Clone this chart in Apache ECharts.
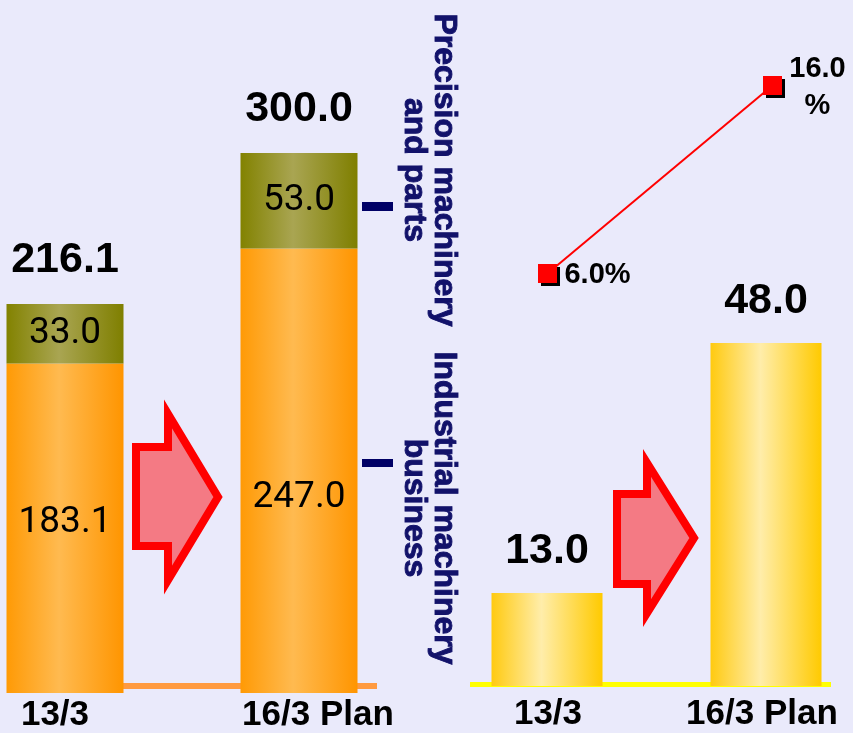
<!DOCTYPE html>
<html>
<head>
<meta charset="utf-8">
<script src="https://cdn.jsdelivr.net/npm/echarts@6/dist/echarts.min.js"></script>
<style>
  html, body { margin: 0; padding: 0; background: #EAEAFB; }
  #chart { width: 853px; height: 733px; }
</style>
</head>
<body>
<div id="chart"></div>
<script>
// Fiscal periods shown on both panels
const categories = ['13/3', '16/3 Plan'];
// Net sales by segment (left panel)
const industrialSales = [183.1, 247.0];
const precisionSales = [33.0, 53.0];
// Operating income (right panel, bars) and operating margin in % (right panel, line)
const operatingIncome = [13.0, 48.0];
const operatingMargin = [6.0, 16.0];
// Segment captions
const segmentNames = ['Industrial machinery\nbusiness', 'Precision machinery\nand parts'];

const totals = industrialSales.map((v, i) => Math.round((v + precisionSales[i]) * 10) / 10);

function hGradient(edge, mid, edge2) {
  return {
    type: 'linear', x: 0, y: 0, x2: 1, y2: 0,
    colorStops: [
      { offset: 0, color: edge },
      { offset: 0.45, color: mid },
      { offset: 1, color: edge2 }
    ]
  };
}

const orangeFill = hGradient('#FF9A05', '#FFBA50', '#FF9500');
const oliveFill = hGradient('#828200', '#A9A552', '#7F7F00');
const yellowFill = hGradient('#FFCA10', '#FFEDAA', '#FFCA00');

// vertical nudges for the in-bar labels of the lower segment
const industrialLabelShift = [-5, 27];

const innerLabel = {
  show: true,
  position: 'inside',
  fontFamily: 'Roboto',
  fontSize: 37,
  color: '#000',
  formatter: p => p.value.toFixed(1)
};

const bigLabel = {
  show: true,
  position: 'top',
  distance: 22,
  fontFamily: 'Liberation Sans',
  fontWeight: 'bold',
  fontSize: 43,
  color: '#000',
  formatter: p => Number(p.value).toFixed(1)
};

const axisFont = { fontFamily: 'Liberation Sans', fontWeight: 'bold', fontSize: 35, color: '#000' };

const chart = echarts.init(document.getElementById('chart'), null, { renderer: 'canvas' });

const captionStyle = {
  align: 'center', verticalAlign: 'middle',
  fontFamily: 'Liberation Sans', fontWeight: 'bold', fontSize: 32,
  lineHeight: 30, fill: '#12126A', stroke: '#12126A', lineWidth: 0.9
};

const option = {
  backgroundColor: '#EAEAFB',
  animation: false,
  grid: [
    { left: -52, width: 468, top: 153, height: 540, outerBoundsMode: 'none' },
    { left: 437.5, width: 438, top: 343, height: 343, outerBoundsMode: 'none' },
    { left: 435, width: 450, top: 85.5, height: 188, outerBoundsMode: 'none' }
  ],
  xAxis: [
    {
      gridIndex: 0, type: 'category', data: categories,
      axisLine: { show: false }, axisTick: { show: false },
      axisLabel: {
        interval: 0, margin: 5, ...axisFont,
        formatter: (v, i) => '{c' + i + '|' + v + '}',
        rich: {
          c0: { ...axisFont, padding: [0, 20, 0, 0] },
          c1: { ...axisFont, padding: [0, 0, 0, 38] }
        }
      }
    },
    {
      gridIndex: 1, type: 'category', data: categories,
      axisLine: { show: false }, axisTick: { show: false },
      axisLabel: {
        interval: 0, margin: 11, ...axisFont,
        formatter: (v, i) => '{c' + i + '|' + v + '}',
        rich: {
          c0: { ...axisFont, padding: [0, 0, 0, 2] },
          c1: { ...axisFont, padding: [0, 8, 0, 0] }
        }
      }
    },
    { gridIndex: 2, type: 'category', data: categories, show: false }
  ],
  yAxis: [
    { gridIndex: 0, type: 'value', min: 0, max: 300, show: false, splitLine: { show: false } },
    { gridIndex: 1, type: 'value', min: 0, max: 48, show: false, splitLine: { show: false } },
    { gridIndex: 2, type: 'value', min: 6, max: 16, show: false, splitLine: { show: false } }
  ],
  series: [
    {
      name: segmentNames[0].replace('\n', ' '),
      type: 'bar', xAxisIndex: 0, yAxisIndex: 0, stack: 'sales',
      barWidth: 117, barGap: '-100%',
      itemStyle: { color: orangeFill },
      label: innerLabel,
      data: industrialSales.map((v, i) => ({ value: v, label: { offset: [0, industrialLabelShift[i]] } }))
    },
    {
      name: segmentNames[1].replace('\n', ' '),
      type: 'bar', xAxisIndex: 0, yAxisIndex: 0, stack: 'sales',
      barWidth: 117, barGap: '-100%',
      itemStyle: { color: oliveFill },
      label: innerLabel,
      data: precisionSales
    },
    {
      name: 'Net sales',
      type: 'bar', xAxisIndex: 0, yAxisIndex: 0,
      barWidth: 117, barGap: '-100%', z: 1,
      itemStyle: { color: 'rgba(0,0,0,0)' },
      label: bigLabel,
      data: totals
    },
    {
      name: 'Operating income',
      type: 'bar', xAxisIndex: 1, yAxisIndex: 1,
      barWidth: 111,
      itemStyle: { color: yellowFill },
      label: { ...bigLabel, distance: 20 },
      data: operatingIncome
    },
    {
      name: 'Operating margin',
      type: 'line', xAxisIndex: 2, yAxisIndex: 2,
      symbol: 'rect', symbolSize: 19,
      lineStyle: { color: '#FF0000', width: 2 },
      itemStyle: { color: '#FF0000', shadowColor: '#000', shadowBlur: 0, shadowOffsetX: 3, shadowOffsetY: 3 },
      label: {
        show: true, position: 'inside',
        fontFamily: 'Liberation Sans', fontWeight: 'bold', fontSize: 29, color: '#000',
        lineHeight: 37, align: 'center',
        formatter: p => p.dataIndex === 0 ? p.value.toFixed(1) + '%' : p.value.toFixed(1) + '\n%'
      },
      data: operatingMargin.map((v, i) => ({ value: v, label: { offset: i === 0 ? [50, 1] : [45, 2] } }))
    }
  ],
  graphic: [
    // baselines under the bars
    { type: 'line', shape: { x1: 7, y1: 686, x2: 377, y2: 686 }, style: { stroke: '#FF9A40', lineWidth: 6 }, z: 0 },
    { type: 'line', shape: { x1: 470, y1: 684.5, x2: 831, y2: 684.5 }, style: { stroke: '#FFFF00', lineWidth: 5 }, z: 0 },
    // growth arrows
    {
      type: 'polygon',
      shape: { points: [[136, 447], [168, 447], [168, 414], [218, 497], [168, 580], [168, 546], [136, 546]] },
      style: { fill: '#F47A84', stroke: '#FF0000', lineWidth: 8, lineJoin: 'miter' }
    },
    {
      type: 'polygon',
      shape: { points: [[617, 494], [647, 494], [647, 463], [694, 538], [647, 613], [647, 584], [617, 584]] },
      style: { fill: '#F47A84', stroke: '#FF0000', lineWidth: 8, lineJoin: 'miter' }
    },
    // segment leader dashes
    { type: 'rect', shape: { x: 362, y: 202, width: 31, height: 9 }, style: { fill: '#000066' } },
    { type: 'rect', shape: { x: 362, y: 459, width: 31, height: 8 }, style: { fill: '#000066' } },
    // rotated segment captions
    {
      type: 'text', x: 429, y: 170, rotation: -Math.PI / 2,
      style: { ...captionStyle, text: segmentNames[1] }
    },
    {
      type: 'text', x: 429, y: 508, rotation: -Math.PI / 2,
      style: { ...captionStyle, text: segmentNames[0] }
    }
  ]
};

chart.setOption(option);
</script>
</body>
</html>
